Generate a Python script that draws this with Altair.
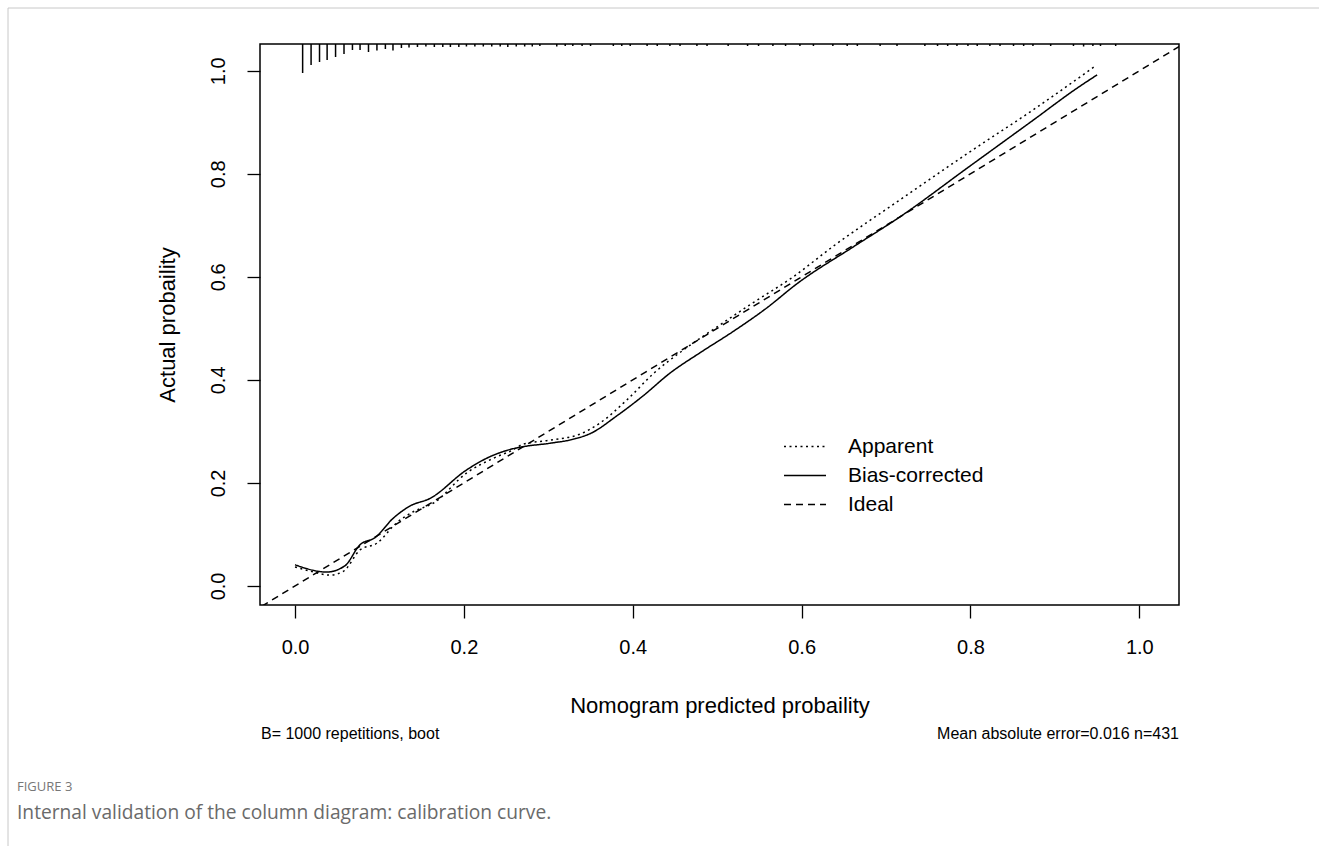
import altair as alt
import pandas as pd

# ---------------- data ----------------
apparent_x = [0.0, 0.02, 0.041, 0.057, 0.077, 0.097, 0.12, 0.14, 0.164, 0.203, 0.235, 0.258,
              0.270, 0.302, 0.338, 0.361, 0.393, 0.425, 0.460, 0.500, 0.539, 0.590, 0.638,
              0.717, 0.796, 0.875, 0.946]
apparent_y = [0.037, 0.028, 0.021, 0.028, 0.070, 0.083, 0.122, 0.144, 0.161, 0.219, 0.248, 0.264,
              0.275, 0.283, 0.295, 0.316, 0.361, 0.413, 0.458, 0.503, 0.546, 0.600, 0.660,
              0.750, 0.839, 0.925, 1.007]

bias_x = [0.0, 0.0375, 0.059, 0.077, 0.095, 0.116, 0.136, 0.160, 0.203, 0.231, 0.255, 0.269,
          0.302, 0.330, 0.350, 0.381, 0.413, 0.444, 0.480, 0.519, 0.559, 0.594, 0.662, 0.717,
          0.796, 0.875, 0.926, 0.950]
bias_y = [0.041, 0.027, 0.039, 0.080, 0.094, 0.131, 0.155, 0.170, 0.225, 0.251, 0.265, 0.270,
          0.277, 0.285, 0.296, 0.330, 0.370, 0.413, 0.453, 0.494, 0.540, 0.586, 0.659, 0.717,
          0.811, 0.905, 0.966, 0.992]

ideal_x = [-0.1, 1.1]
ideal_y = [-0.1, 1.1]

rug_x = [0.009, 0.019, 0.029, 0.038, 0.048, 0.058, 0.068, 0.077, 0.087, 0.097, 0.107, 0.116,
         0.126, 0.135, 0.145, 0.155, 0.165, 0.175, 0.184, 0.194, 0.203, 0.213, 0.223, 0.233,
         0.243, 0.252, 0.262, 0.272, 0.281, 0.290, 0.310, 0.320, 0.329, 0.340, 0.350, 0.377,
         0.387, 0.397, 0.417, 0.429, 0.444, 0.456, 0.476, 0.488, 0.513, 0.536, 0.549, 0.566,
         0.581, 0.598, 0.614, 0.637, 0.654, 0.666, 0.693, 0.713, 0.746, 0.761, 0.773, 0.784,
         0.797, 0.808, 0.823, 0.835, 0.851, 0.863, 0.874, 0.895, 0.922, 0.934, 0.945, 0.954,
         0.972]
rug_count = [58, 42, 36, 32, 26, 20, 12, 12, 16, 13, 10, 13, 8, 7, 6, 5, 6, 6, 6, 6, 5, 5, 5, 5,
             5, 6, 5, 5, 5, 4, 5, 4, 4, 4, 4, 4, 4, 4, 4, 4, 4, 4, 4, 4, 4, 4, 4, 4,
             4, 4, 4, 4, 4, 4, 4, 4, 4, 4, 4, 4, 4, 4, 4, 4, 4, 4, 4, 4, 4, 5, 4, 4, 4]

series_names = ["Apparent", "Bias-corrected", "Ideal"]
x_ticks = [0.0, 0.2, 0.4, 0.6, 0.8, 1.0]
y_ticks = [0.0, 0.2, 0.4, 0.6, 0.8, 1.0]

X_DOMAIN = [-0.0415, 1.047]
Y_DOMAIN = [-0.037, 1.052]

# ---------------- tables ----------------
curves = pd.concat([
    pd.DataFrame({"x": apparent_x, "y": apparent_y, "series": "Apparent"}),
    pd.DataFrame({"x": bias_x, "y": bias_y, "series": "Bias-corrected"}),
])
ideal = pd.DataFrame({"x": ideal_x, "y": ideal_y, "series": "Ideal"})
rug = pd.DataFrame({"x": rug_x, "count": rug_count})
rug["ytop"] = Y_DOMAIN[1]
rug["yend"] = Y_DOMAIN[1] - rug["count"] * 0.00097

FONT = "Liberation Sans"

xscale = alt.Scale(domain=X_DOMAIN, nice=False, zero=False)
yscale = alt.Scale(domain=Y_DOMAIN, nice=False, zero=False)

xenc = alt.X("x:Q", scale=xscale, title="Nomogram predicted probaility",
             axis=alt.Axis(values=x_ticks, format=".1f", domain=False, grid=False,
                           tickSize=13, tickWidth=1.3, tickColor="black",
                           labelFontSize=20, labelFont=FONT, labelColor="black",
                           labelPadding=19, titleFontSize=22, titleFont=FONT,
                           titleFontWeight="normal", titleColor="black", titlePadding=38))
yenc = alt.Y("y:Q", scale=yscale, title="Actual probaility",
             axis=alt.Axis(values=y_ticks, format=".1f", domain=False, grid=False,
                           tickSize=13, tickWidth=1.3, tickColor="black",
                           labelFontSize=20, labelFont=FONT, labelColor="black",
                           labelAngle=-90, labelAlign="center", labelBaseline="bottom",
                           labelPadding=19, titleFontSize=22, titleFont=FONT,
                           titleFontWeight="normal", titleColor="black", titlePadding=29))

dash = alt.StrokeDash(
    "series:N",
    scale=alt.Scale(domain=series_names, range=[[2, 3.5], [1, 0], [7, 5]]),
    legend=alt.Legend(title=None, orient="none", legendX=523, legendY=388,
                      symbolType="stroke", symbolSize=1764, symbolStrokeWidth=1.5,
                      symbolStrokeColor="black", clipHeight=29, rowPadding=0,
                      labelFontSize=21, labelFont=FONT, labelColor="black",
                      labelOffset=21, padding=0),
)

lines = alt.Chart(curves).mark_line(color="black", strokeWidth=1.5, interpolate="monotone").encode(
    x=xenc, y=yenc, strokeDash=dash, detail="series:N")

ideal_line = alt.Chart(ideal).mark_line(color="black", strokeWidth=1.5, clip=True).encode(
    x=alt.X("x:Q", scale=xscale), y=alt.Y("y:Q", scale=yscale), strokeDash=dash)

rug_marks = alt.Chart(rug).mark_rule(color="black", strokeWidth=1.5).encode(
    x=alt.X("x:Q", scale=xscale), y=alt.Y("ytop:Q", scale=yscale), y2="yend:Q")

one = pd.DataFrame({"t": [""]})

def label(text, x, y, size, color="black", align="left", font=FONT):
    return alt.Chart(pd.DataFrame({"t": [text]})).mark_text(
        align=align, baseline="middle", fontSize=size, font=font, color=color
    ).encode(x=alt.value(x), y=alt.value(y), text="t:N")

sub_left = label("B= 1000 repetitions, boot", 1, 690, 16)
sub_right = label("Mean absolute error=0.016 n=431", 919, 690, 16, align="right")
fig_label = label("FIGURE 3", -243, 743, 13, color="#777777", font="Open Sans")
caption = label("Internal validation of the column diagram: calibration curve.", -243, 769, 19.2,
                color="#6a6a6a", font="Open Sans")

border_left = alt.Chart(one).mark_rule(color="#c8c8c8", strokeWidth=1).encode(
    x=alt.value(-252), y=alt.value(-36), y2=alt.value(802))
border_top = alt.Chart(one).mark_rule(color="#c8c8c8", strokeWidth=1).encode(
    x=alt.value(-252), x2=alt.value(1059), y=alt.value(-36))

chart = alt.layer(
    rug_marks, ideal_line, lines, sub_left, sub_right, fig_label, caption, border_left, border_top
).properties(
    width=919, height=561,
    background="white",
    autosize=alt.AutoSizeParams(type="none"),
    padding={"left": 260, "top": 44, "right": 140, "bottom": 241},
).configure_view(
    stroke="black", strokeWidth=1.5, fill="white"
)

chart.save("out.html", embed_options={"renderer": "svg", "actions": False})
